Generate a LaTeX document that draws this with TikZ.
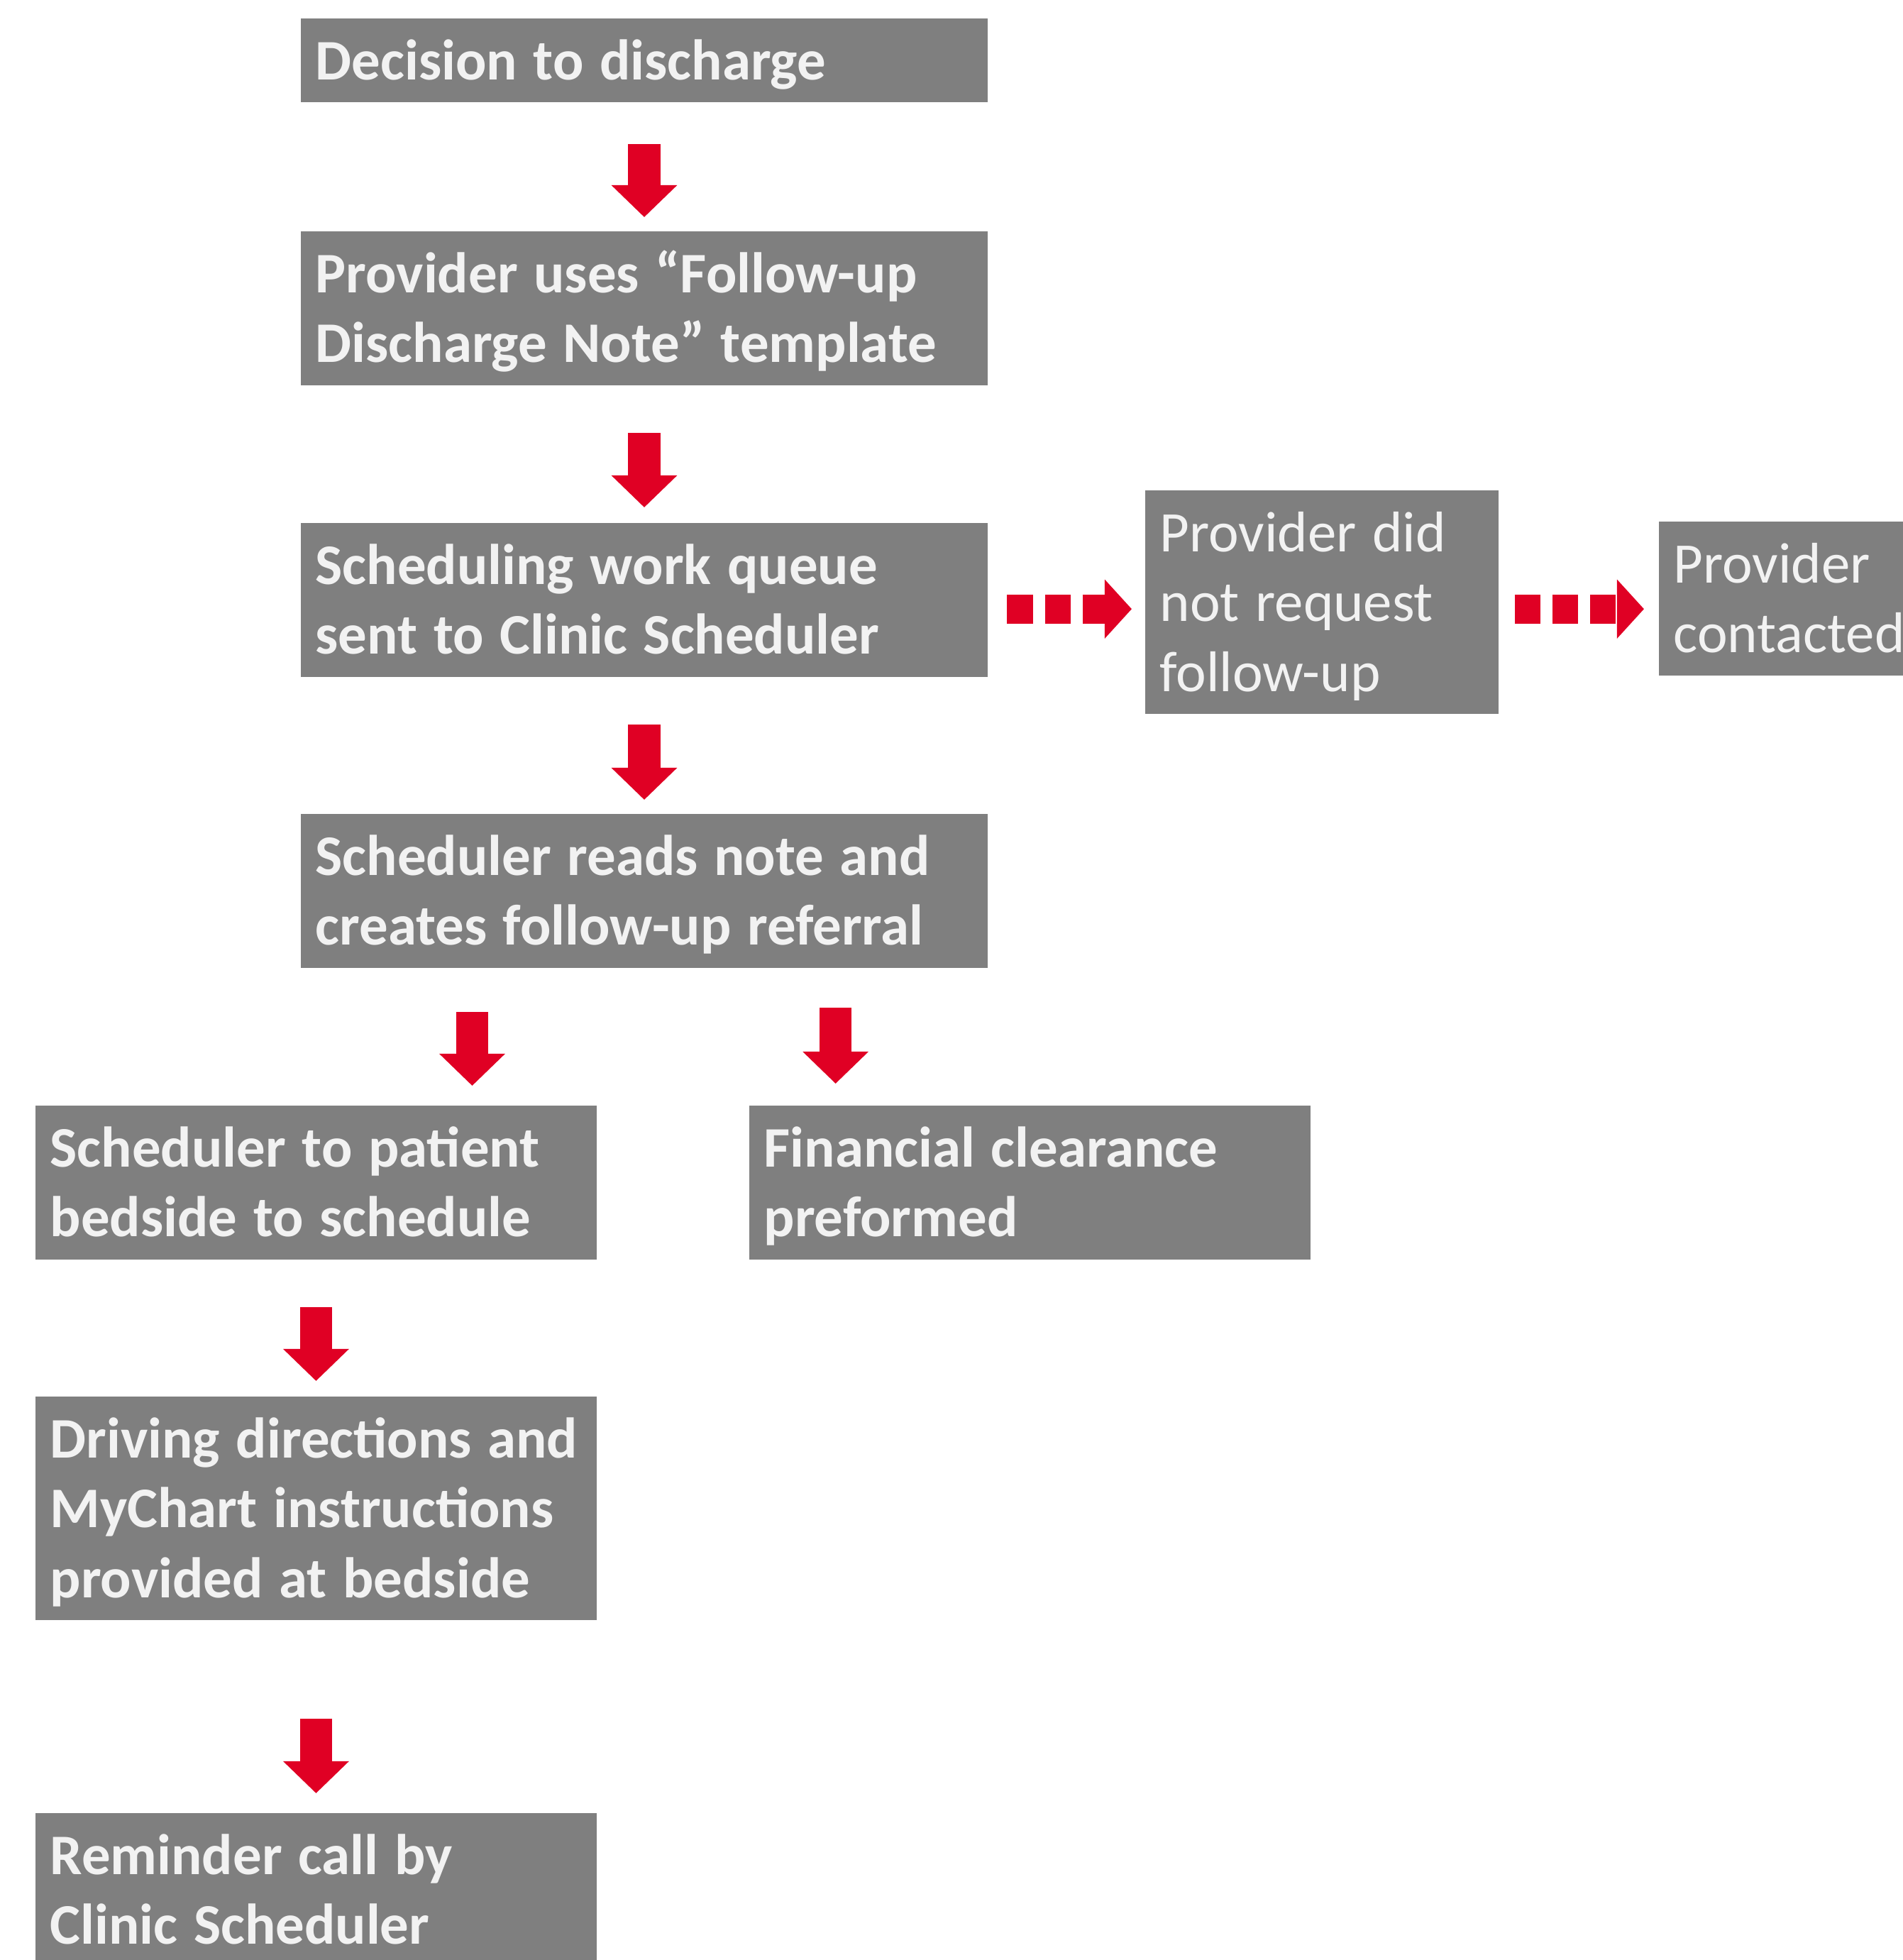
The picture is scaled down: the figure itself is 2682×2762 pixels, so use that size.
\documentclass[tikz,border=0pt]{standalone}
\usepackage{fontspec}
\setmainfont{Carlito}
\usetikzlibrary{arrows.meta, calc}
\definecolor{boxgray}{HTML}{7F7F7F}
\definecolor{boxtext}{HTML}{F2F2F2}
\definecolor{flowred}{HTML}{E00024}
\newcommand{\linestrut}{\rule[-6.2pt]{0pt}{28pt}}

\begin{document}
\begin{tikzpicture}[x=0.01cm, y=-0.01cm,
    flowbox/.style={fill=boxgray, text=boxtext, anchor=north west, align=left,
      inner xsep=0.21cm, inner ysep=0.1cm, font=\fontsize{23}{28}\selectfont\bfseries,
      execute at begin node={\spaceskip=0.28em\relax\linestrut}, execute at end node=\linestrut},
    wide box/.style={flowbox, text width=9.26cm},
    narrow box/.style={flowbox, text width=7.49cm},
    side box/.style={flowbox, text width=4.56cm, font=\fontsize{23}{28}\selectfont},
    down arrow/.style={flowred, line width=0.45cm, -{Triangle[length=0.45cm, width=0.9cm]}},
    side arrow/.style={flowred, line width=0.41cm, dash pattern=on 0.36cm off 0.17cm,
      -{Triangle[length=0.38cm, width=0.81cm]}}]
  \clip (0,0) rectangle (2682,2762);

  % main column
  \node[wide box] (discharge) at (423,25) {Decision to discharge};
  \node[wide box] (template) at (423,325) {Provider uses “Follow-up\\Discharge Note” template};
  \node[wide box] (queue) at (423,736) {Scheduling work queue\\sent to Clinic Scheduler};
  \node[wide box] (referral) at (423,1146) {Scheduler reads note and\\creates follow-up referral};
  \node[narrow box] (bedside) at (49,1557) {Scheduler to patient\\bedside to schedule};
  \node[narrow box] (clearance) at (1055,1557) {Financial clearance\\preformed};
  \node[narrow box] (directions) at (49,1967) {\mbox{Driving directions and}\\MyChart instructions\\provided at bedside};
  \node[narrow box] (reminder) at (49,2554) {Reminder call by\\Clinic Scheduler};

  % side branch
  \node[side box] (norequest) at (1613,690) {Provider did\\not request\\follow-up};
  \node[side box] (contacted) at (2337,734) {Provider\\contacted};

  \coordinate (split1) at ($(referral.south west)!0.25!(referral.south east)$);
  \coordinate (split2) at ($(referral.south west)!0.778!(referral.south east)$);

  \draw[down arrow, shorten <=0.58cm, shorten >=0.19cm] (discharge.south) -- (template.north);
  \draw[down arrow, shorten <=0.67cm, shorten >=0.21cm] (template.south) -- (queue.north);
  \draw[down arrow, shorten <=0.67cm, shorten >=0.19cm] (queue.south) -- (referral.north);
  \draw[down arrow, shorten <=0.62cm, shorten >=0.27cm] (split1) -- (split1 |- bedside.north);
  \draw[down arrow, shorten <=0.56cm, shorten >=0.30cm] (split2) -- (split2 |- clearance.north);
  \draw[down arrow, shorten <=0.67cm, shorten >=0.21cm] (bedside.south) -- (directions.north);
  \draw[down arrow, shorten <=1.38cm, shorten >=0.27cm] (directions.south) -- (reminder.north);

  \draw[side arrow, shorten <=0.265cm, shorten >=0.18cm]
    ([yshift=-0.13cm]queue.east) -- ([yshift=-0.13cm]queue.east -| norequest.west);
  \draw[side arrow, shorten <=0.22cm, shorten >=0.20cm]
    ([yshift=-0.13cm]queue.east -| norequest.east) -- ([yshift=-0.13cm]queue.east -| contacted.west);
\end{tikzpicture}
\end{document}
